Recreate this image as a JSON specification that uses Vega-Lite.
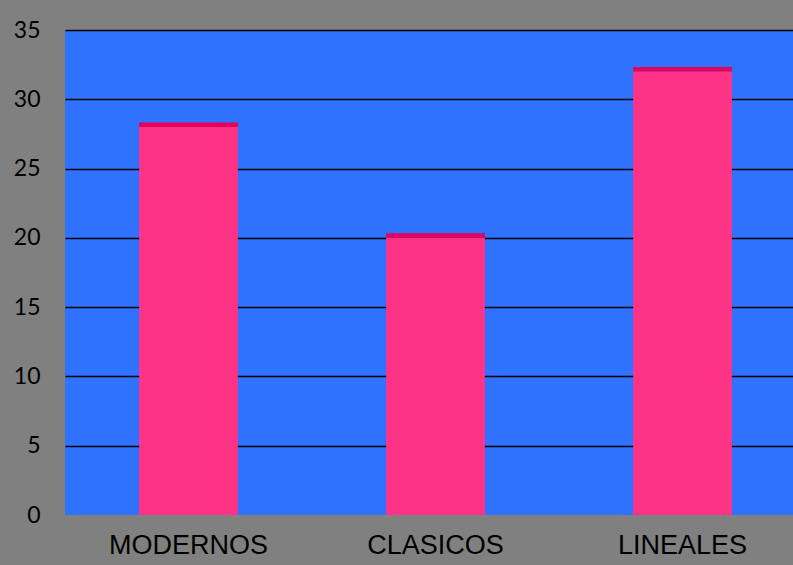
{
  "$schema": "https://vega.github.io/schema/vega-lite/v6.json",
  "width": 741,
  "height": 485,
  "autosize": {"type": "none"},
  "padding": {"left": 65, "top": 30, "right": 0, "bottom": 50},
  "background": "#808080",
  "config": {
    "view": {"fill": "#2F72FF", "stroke": null},
    "axis": {"domain": false, "ticks": false, "labelColor": "#000000"}
  },
  "data": {
    "values": [
      {"estilo": "MODERNOS", "valor": 28},
      {"estilo": "CLASICOS", "valor": 20},
      {"estilo": "LINEALES", "valor": 32}
    ]
  },
  "encoding": {
    "x": {
      "field": "estilo",
      "type": "nominal",
      "sort": null,
      "scale": {"paddingInner": 0.6, "paddingOuter": 0.3},
      "axis": {
        "title": null,
        "labelAngle": 0,
        "labelFont": "Liberation Sans",
        "labelFontSize": 27,
        "labelPadding": 17,
        "grid": false
      }
    },
    "y": {
      "field": "valor",
      "type": "quantitative",
      "scale": {"domain": [0, 35], "nice": false},
      "axis": {
        "title": null,
        "values": [0, 5, 10, 15, 20, 25, 30, 35],
        "labelFont": "Lato",
        "labelFontSize": 23,
        "labelPadding": 25,
        "grid": true,
        "gridColor": {
          "condition": {"test": "datum.value === 0", "value": "transparent"},
          "value": "#000000"
        },
        "gridWidth": 1.5,
        "gridOpacity": 1
      }
    }
  },
  "layer": [
    {"mark": {"type": "bar", "color": "#FF3385"}},
    {
      "mark": {
        "type": "tick",
        "color": "#E6005C",
        "thickness": 4.5,
        "yOffset": -2.25,
        "bandSize": 98.8,
        "opacity": 1
      }
    }
  ]
}
